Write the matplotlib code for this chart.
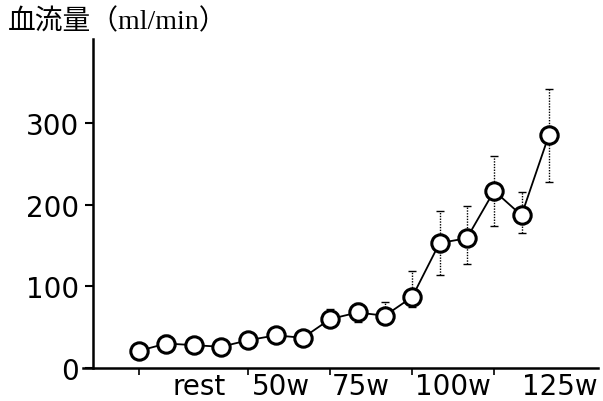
import matplotlib
matplotlib.use("Agg")
from matplotlib import pyplot as plt
import numpy as np

# blood flow (ml/min) over the stages
stage = np.arange(1, 17)
flow = [21, 30, 28, 26, 34, 40, 37, 60, 68, 64, 87, 153, 159, 217, 187, 285]
err_up = [4, 10, 5, 4, 6, 6, 6, 12, 12, 17, 32, 39, 39, 43, 28, 57]
err_dn = [4, 6, 5, 4, 5, 5, 5, 10, 12, 10, 12, 39, 32, 43, 22, 57]

tick_pos = [1, 5, 8, 11, 14]
label_pos = [3.2, 6.2, 9.1, 12.5, 16.4]
labels = ["rest", "50w", "75w", "100w", "125w"]
yticks = [0, 100, 200, 300]

fig = plt.figure(figsize=(6.03, 4.02), dpi=100)
ax = fig.add_axes([83 / 603, 33 / 402, 515 / 603, 329 / 402])

eb = ax.errorbar(stage, flow, yerr=[err_dn, err_up], fmt="none", ecolor="black",
                 elinewidth=1.0, capsize=3, capthick=1.0, zorder=1)
eb[2][0].set_linestyle((0, (1, 1)))
ax.plot(stage, flow, color="black", linewidth=1.3, zorder=2)
ax.plot(stage, flow, linestyle="none", marker="o", markersize=12.5,
        markerfacecolor="white", markeredgecolor="black", markeredgewidth=2.2, zorder=3)

ax.set_xlim(-1.05, 17.8)
ax.set_ylim(0, 403)

for s in ["top", "right"]:
    ax.spines[s].set_visible(False)
ax.spines["left"].set_position(("data", -0.69))
ax.spines["left"].set_linewidth(1.8)
ax.spines["bottom"].set_linewidth(1.8)

ax.set_yticks(yticks)
ax.set_yticklabels([str(v) for v in yticks], fontsize=20)
ax.tick_params(axis="y", length=6, width=1.5, pad=4)

ax.set_xticks(tick_pos)
ax.set_xticklabels([])
ax.tick_params(axis="x", which="major", length=5, width=1.2)
ax.set_xticks(label_pos, minor=True)
ax.set_xticklabels(labels, minor=True, fontsize=20)
ax.tick_params(axis="x", which="minor", length=0, pad=3)

fig.text(8 / 603, 1 - 22 / 402, "血流量（ml/min）", fontsize=20,
         family=["Liberation Serif", "Noto Sans CJK JP"], va="center", ha="left")

fig.savefig("out.png", dpi=100)
